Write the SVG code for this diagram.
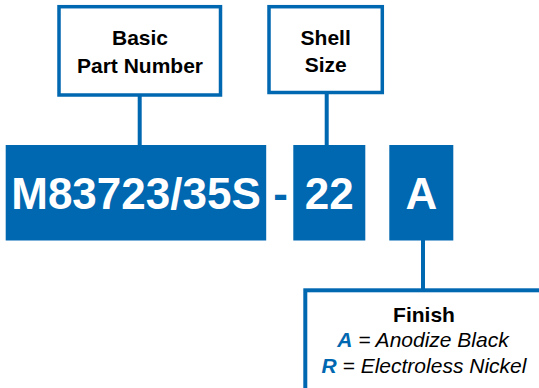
<svg xmlns="http://www.w3.org/2000/svg" width="539" height="388" viewBox="0 0 539 388">
<style>
.box{fill:#ffffff;stroke:#0067b1;stroke-width:3.5}
.code{fill:#0067b1}
.conn{stroke:#0067b1;stroke-width:4;fill:none}
.lbl{font-family:"Liberation Sans",Arial,sans-serif;font-weight:bold;font-size:21px;fill:#000000;text-anchor:middle}
.big{font-family:"Liberation Sans",Arial,sans-serif;font-weight:bold;font-size:44px;fill:#ffffff;text-anchor:middle}
.fin{font-family:"Liberation Sans",Arial,sans-serif;font-style:italic;font-size:21px;fill:#000000;text-anchor:middle}
.key{font-weight:bold;fill:#0067b1}
</style>
<rect width="539" height="388" fill="#ffffff"/>
<g id="connectors">
<line class="conn" x1="139.7" y1="95" x2="139.7" y2="146"/>
<line class="conn" x1="326.7" y1="93" x2="326.7" y2="146"/>
<line class="conn" x1="423" y1="239" x2="423" y2="291"/>
</g>
<g id="basic-part-number">
<rect class="box" x="59" y="6.7" width="161.5" height="88.3"/>
<text class="lbl" x="140" y="45">Basic</text>
<text class="lbl" x="140" y="73">Part Number</text>
</g>
<g id="shell-size">
<rect class="box" x="269" y="6.7" width="113.3" height="85.8"/>
<text class="lbl" x="325.7" y="45">Shell</text>
<text class="lbl" x="325.7" y="72">Size</text>
</g>
<g id="code-basic">
<rect class="code" x="5.7" y="145" width="260.5" height="95.5"/>
<text class="big" x="136" y="209">M83723/35S</text>
</g>
<text id="dash" x="280.5" y="209" font-family="Liberation Sans, Arial, sans-serif" font-weight="bold" font-size="44" fill="#0067b1" text-anchor="middle">-</text>
<g id="code-shell">
<rect class="code" x="293.3" y="145" width="72" height="95.5"/>
<text class="big" x="329.3" y="209">22</text>
</g>
<g id="code-finish">
<rect class="code" x="389.3" y="145" width="64" height="95.5"/>
<text class="big" x="421.3" y="209">A</text>
</g>
<g id="finish">
<rect x="305.3" y="290.3" width="250" height="120" fill="#ffffff" stroke="#0067b1" stroke-width="4"/>
<text class="lbl" x="424" y="321.5">Finish</text>
<text class="fin" x="423" y="347"><tspan class="key">A</tspan> = Anodize Black</text>
<text class="fin" x="424" y="372.5"><tspan class="key">R</tspan> = Electroless Nickel</text>
</g>
</svg>
